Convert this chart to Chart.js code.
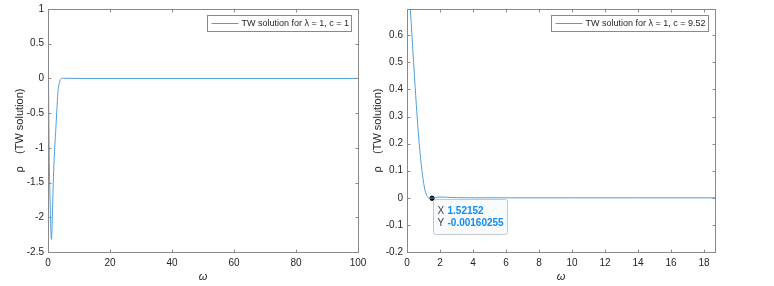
<!DOCTYPE html>
<html>
<head>
<meta charset="utf-8">
<script src="https://cdn.jsdelivr.net/npm/chart.js@4/dist/chart.umd.min.js"></script>
<style>
  body { margin: 0; background: #fff; }
  .panel { position: absolute; top: 0; height: 286px; }
  #leftBox { left: 0; width: 387px; }
  #rightBox { left: 360px; width: 414px; }
</style>
</head>
<body>
<div class="panel" id="leftBox"><canvas id="leftChart"></canvas></div>
<div class="panel" id="rightBox"><canvas id="rightChart"></canvas></div>
<script>
// left panel: c = 1
const omegaLeft = [0, 0.35, 0.75, 1.1, 1.4, 1.7, 2.25, 2.5, 2.8, 3.2, 3.7, 4.3, 5, 10, 20, 40, 60, 80, 100];
const rhoLeft = [1, -0.95, -1.9, -2.32, -2.0, -1.5, -0.93, -0.75, -0.5, -0.2, -0.06, 0, 0.003, 0, 0, 0, 0, 0, 0];
const xTicksLeft = [0, 20, 40, 60, 80, 100];
const yTicksLeft = [-2.5, -2, -1.5, -1, -0.5, 0, 0.5, 1];

// right panel: c = 9.52
const omegaRight = [0, 0.2, 0.4, 0.57, 0.74, 0.91, 1.05, 1.2, 1.35, 1.52152, 1.75, 2.0, 2.4, 3, 4, 6, 10, 14, 18.67];
const rhoRight = [0.9, 0.7, 0.5, 0.34, 0.2, 0.1, 0.04, 0.008, -0.001, -0.00160255, 0.001, 0.003, 0.002, 0.0005, 0, 0, 0, 0, 0];
const xTicksRight = [0, 2, 4, 6, 8, 10, 12, 14, 16, 18];
const yTicksRight = [-0.2, -0.1, 0, 0.1, 0.2, 0.3, 0.4, 0.5, 0.6];

// data tip
const tipX = 1.52152;
const tipY = -0.00160255;
const tipXText = '1.52152';
const tipYText = '-0.00160255';

const lineColor = '#4f9fd9';
const axisColor = '#8a8a8a';
const textColor = '#262626';
const fontFamily = '"Liberation Sans", Arial, sans-serif';

function toPoints(xs, ys) {
  return xs.map((x, i) => ({ x: x, y: ys[i] }));
}

// box around the axes with inward ticks on all four sides
const boxPlugin = {
  id: 'boxPlugin',
  afterDatasetsDraw(chart) {
    const ctx = chart.ctx;
    const a = chart.chartArea;
    const xs = chart.scales.x, ys = chart.scales.y;
    const L = Math.round(a.left) + 0.5, R = Math.round(a.right) + 0.5;
    const T = Math.round(a.top) + 0.5, B = Math.round(a.bottom) + 0.5;
    ctx.save();
    ctx.strokeStyle = axisColor;
    ctx.lineWidth = 1;
    ctx.strokeRect(L, T, R - L, B - T);
    ctx.beginPath();
    xs.ticks.forEach(t => {
      const px = Math.round(xs.getPixelForValue(t.value)) + 0.5;
      ctx.moveTo(px, B); ctx.lineTo(px, B - 3);
      ctx.moveTo(px, T); ctx.lineTo(px, T + 3);
    });
    ys.ticks.forEach(t => {
      const py = Math.round(ys.getPixelForValue(t.value)) + 0.5;
      ctx.moveTo(L, py); ctx.lineTo(L + 3, py);
      ctx.moveTo(R, py); ctx.lineTo(R - 3, py);
    });
    ctx.stroke();
    ctx.restore();
  }
};

// MATLAB style legend box in the upper right corner
const legendPlugin = {
  id: 'legendPlugin',
  afterDraw(chart) {
    const ctx = chart.ctx;
    const a = chart.chartArea;
    const label = chart.data.datasets[0].label;
    ctx.save();
    ctx.font = '9px ' + fontFamily;
    const tw = ctx.measureText(label).width;
    const w = 4 + 27 + 3 + tw + 3;
    const right = Math.round(a.right - 7) + 0.5;
    const left = Math.round(right - w) + 0.5;
    const top = Math.round(a.top + 6) + 0.5;
    const h = 16;
    ctx.fillStyle = '#fff';
    ctx.fillRect(left, top, right - left, h);
    ctx.strokeStyle = '#8a8a8a';
    ctx.lineWidth = 1;
    ctx.strokeRect(left, top, right - left, h);
    ctx.strokeStyle = lineColor;
    ctx.beginPath();
    ctx.moveTo(left + 4, top + h / 2);
    ctx.lineTo(left + 31, top + h / 2);
    ctx.stroke();
    ctx.fillStyle = textColor;
    ctx.textBaseline = 'middle';
    ctx.fillText(label, left + 34, top + h / 2 + 0.5);
    ctx.restore();
  }
};

// data tip on the right panel
const tipPlugin = {
  id: 'tipPlugin',
  afterDraw(chart) {
    if (!chart.options.plugins.tipPlugin || !chart.options.plugins.tipPlugin.show) return;
    const ctx = chart.ctx;
    const px = chart.scales.x.getPixelForValue(tipX);
    const py = chart.scales.y.getPixelForValue(tipY);
    const bx = Math.round(px + 1) + 0.5, by = Math.round(py + 1) + 0.5;
    const bw = 74, bh = 35;
    ctx.save();
    ctx.fillStyle = '#f8fafc';
    ctx.strokeStyle = '#c4c8cc';
    ctx.lineWidth = 1;
    ctx.beginPath();
    ctx.roundRect(bx, by, bw, bh, 2);
    ctx.fill();
    ctx.stroke();
    ctx.textBaseline = 'middle';
    ctx.font = '10px ' + fontFamily;
    ctx.fillStyle = '#404040';
    ctx.fillText('X', bx + 4, by + 12);
    ctx.fillText('Y', bx + 4, by + 24);
    ctx.font = 'bold 10px ' + fontFamily;
    ctx.fillStyle = '#0d8ef0';
    ctx.fillText(tipXText, bx + 14, by + 12);
    ctx.fillText(tipYText, bx + 14, by + 24);
    ctx.restore();
  }
};

function makeChart(canvasId, opts) {
  const ctx = document.getElementById(canvasId).getContext('2d');
  const datasets = [{
    label: opts.label,
    data: toPoints(opts.xs, opts.ys),
    borderColor: lineColor,
    borderWidth: 1,
    pointRadius: 0,
    cubicInterpolationMode: 'monotone',
    fill: false
  }];
  if (opts.marker) {
    datasets.push({
      label: 'tip',
      data: [{ x: tipX, y: tipY }],
      showLine: false,
      pointRadius: 2.2,
      pointBackgroundColor: '#000',
      pointBorderColor: '#000'
    });
  }
  return new Chart(ctx, {
    type: 'line',
    data: { datasets: datasets },
    plugins: [boxPlugin, legendPlugin, tipPlugin],
    options: {
      responsive: true,
      maintainAspectRatio: false,
      animation: false,
      layout: { padding: { left: 0, right: opts.padRight, top: 9, bottom: 0 } },
      plugins: {
        legend: { display: false },
        tooltip: { enabled: false },
        tipPlugin: { show: !!opts.marker }
      },
      scales: {
        x: {
          type: 'linear',
          min: opts.xMin, max: opts.xMax,
          afterBuildTicks: s => { s.ticks = opts.xTicks.map(v => ({ value: v })); },
          afterFit: s => { s.height = 34; s.paddingLeft = 0; s.paddingRight = 0; },
          grid: { display: false, drawTicks: false },
          border: { display: false },
          ticks: {
            padding: 5,
            color: textColor,
            font: { family: fontFamily, size: 10 },
            maxRotation: 0,
            callback: v => String(v)
          },
          title: {
            display: true, text: 'ω', color: textColor,
            font: { family: fontFamily, size: 11, style: 'italic' },
            padding: { top: 0, bottom: 2 }
          }
        },
        y: {
          type: 'linear',
          min: opts.yMin, max: opts.yMax,
          afterBuildTicks: s => { s.ticks = opts.yTicks.map(v => ({ value: v })); },
          afterFit: s => { s.width = opts.yWidth; s.paddingTop = 0; s.paddingBottom = 0; },
          grid: { display: false, drawTicks: false },
          border: { display: false },
          ticks: {
            padding: 4,
            color: textColor,
            font: { family: fontFamily, size: 10 },
            callback: v => String(Math.round(v * 10) / 10)
          },
          title: {
            display: true, text: 'ρ    (TW solution)', color: textColor,
            font: { family: fontFamily, size: 11 },
            padding: { top: opts.yTitlePad, bottom: 0 }
          }
        }
      }
    }
  });
}

makeChart('leftChart', {
  label: 'TW solution for λ = 1, c = 1',
  xs: omegaLeft, ys: rhoLeft,
  xMin: 0, xMax: 100, yMin: -2.5, yMax: 1,
  xTicks: xTicksLeft, yTicks: yTicksLeft,
  yWidth: 48, padRight: 29, yTitlePad: 13
});

makeChart('rightChart', {
  label: 'TW solution for λ = 1, c = 9.52',
  xs: omegaRight, ys: rhoRight,
  xMin: 0, xMax: 18.67, yMin: -0.2, yMax: 0.697,
  xTicks: xTicksRight, yTicks: yTicksRight,
  yWidth: 47, padRight: 59, yTitlePad: 11,
  marker: true
});
</script>
</body>
</html>
